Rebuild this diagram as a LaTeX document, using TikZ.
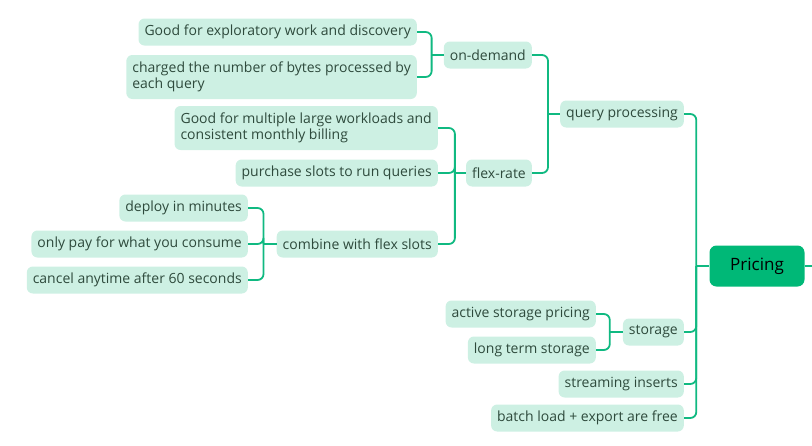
\documentclass[tikz,border=0pt]{standalone}
\usepackage{fontspec}
\setmainfont{Open Sans}
\usetikzlibrary{calc}
\definecolor{mint}{HTML}{CDF0E3}
\definecolor{linegreen}{HTML}{10B981}
\definecolor{rootgreen}{HTML}{00B877}
\definecolor{ink}{HTML}{2E4A3C}

\begin{document}
\begin{tikzpicture}[x=1pt, y=-1pt,
  topic/.style={rounded corners=6pt, fill=mint, text=ink, font=\fontsize{14}{16.5}\selectfont,
    inner xsep=6pt, inner ysep=0pt, minimum height=27pt, align=left, anchor=east},
  root/.style={rounded corners=7pt, fill=rootgreen, text=black, font=\fontsize{17}{20}\selectfont,
    minimum width=95pt, minimum height=41pt},
  link/.style={draw=linegreen, line width=1.8pt, rounded corners=6pt}]
        \useasboundingbox (0,0) rectangle (812,445);
        % central topic
        \node [root] (pricing) at (757,266) {Pricing};
        % first level
        \node [topic] (qp) at (684,114) {query processing};
        \node [topic] (st) at (684,332) {storage};
        \node [topic] (si) at (684,384) {streaming inserts};
        \node [topic] (bl) at (684,418) {batch load + export are free};
        % query processing
        \node [topic] (od) at (532,55) {on-demand};
        \node [topic] (fr) at (532,173) {flex-rate};
        % on-demand
        \node [topic] (od-a) at (417,32) {Good for exploratory work and discovery};
        \node [topic, minimum height=44pt] (od-b) at (417,77) {charged the number of bytes processed by\\each query};
        % flex-rate
        \node [topic, minimum height=44pt] (fr-a) at (438,128) {Good for multiple large workloads and\\consistent monthly billing};
        \node [topic] (fr-b) at (438,173) {purchase slots to run queries};
        \node [topic] (fr-c) at (438,244) {combine with flex slots};
        % flex slots
        \node [topic] (cf-a) at (248,208) {deploy in minutes};
        \node [topic] (cf-b) at (248,244) {only pay for what you consume};
        \node [topic] (cf-c) at (248,280) {cancel anytime after 60 seconds};
        % storage
        \node [topic] (st-a) at (596,314) {active storage pricing};
        \node [topic] (st-b) at (596,350) {long term storage};

        % junctions
        \coordinate (j-pricing) at ($(pricing.west)+(-13,0)$);
        \coordinate (j-qp) at ($(qp.west)+(-12,0)$);
        \coordinate (j-od) at ($(od.west)+(-12,0)$);
        \coordinate (j-fr) at ($(fr.west)+(-11,0)$);
        \coordinate (j-cf) at ($(fr-c.west)+(-13,0)$);
        \coordinate (j-st) at ($(st.west)+(-13,0)$);
        \coordinate (p-out) at (812,266);

        \draw [link] (pricing.east) -- (p-out);
        \draw [link] (j-pricing) -- (pricing.west);
        \draw [link] (qp.east) -| (j-pricing);
        \draw [link] (st.east) -| (j-pricing);
        \draw [link] (si.east) -| (j-pricing);
        \draw [link] (bl.east) -| (j-pricing);

        \draw [link] (j-qp) -- (qp.west);
        \draw [link] (od.east) -| (j-qp);
        \draw [link] (fr.east) -| (j-qp);

        \draw [link] (j-od) -- (od.west);
        \draw [link] (od-a.east) -| (j-od);
        \draw [link] (od-b.east) -| (j-od);

        \draw [link] (j-fr) -- (fr.west);
        \draw [link] (fr-a.east) -| (j-fr);
        \draw [link] (fr-b.east) -| (j-fr);
        \draw [link] (fr-c.east) -| (j-fr);

        \draw [link] (j-cf) -- (fr-c.west);
        \draw [link] (cf-a.east) -| (j-cf);
        \draw [link] (cf-b.east) -| (j-cf);
        \draw [link] (cf-c.east) -| (j-cf);

        \draw [link] (j-st) -- (st.west);
        \draw [link] (st-a.east) -| (j-st);
        \draw [link] (st-b.east) -| (j-st);
\end{tikzpicture}
\end{document}
